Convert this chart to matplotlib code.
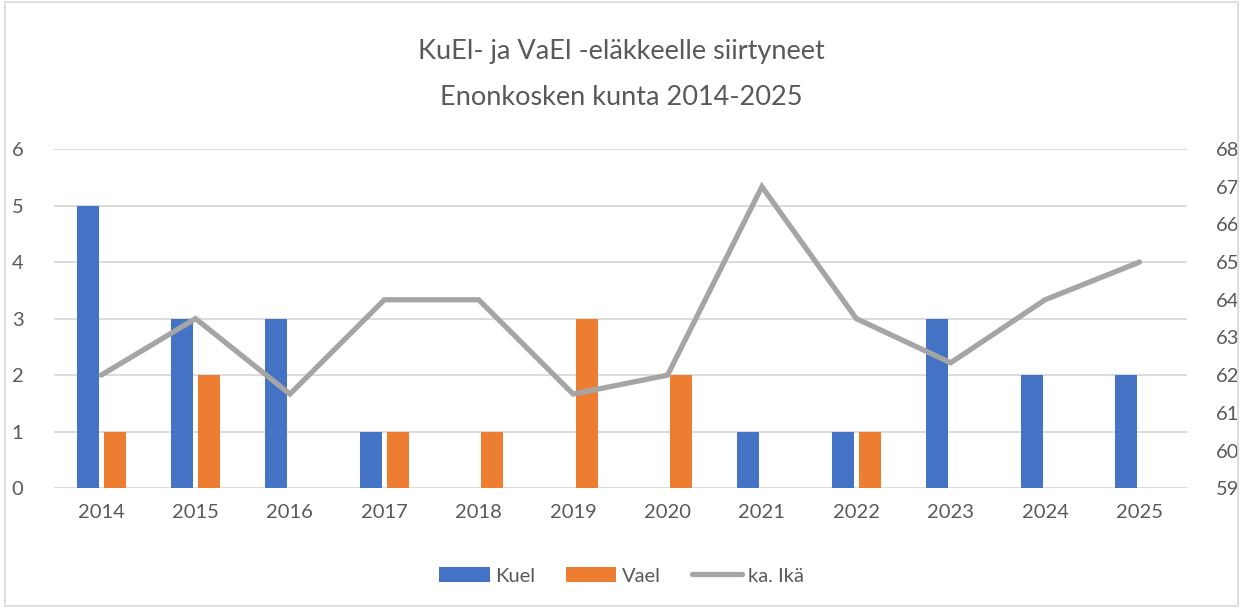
import numpy as np
import matplotlib.pyplot as plt
from matplotlib.patches import Rectangle

years = ['2014', '2015', '2016', '2017', '2018', '2019',
         '2020', '2021', '2022', '2023', '2024', '2025']
kuel = [5, 3, 3, 1, 0, 0, 0, 1, 1, 3, 2, 2]
vael = [1, 2, 0, 1, 1, 3, 2, 0, 1, 0, 0, 0]
ika = [62, 63.5, 61.5, 64, 64, 61.5, 62, 67, 63.5, 62.33, 64, 65]

txt = '#595959'
grid_c = '#d9d9d9'
plt.rcParams['font.family'] = ['Lato', 'DejaVu Sans']

fig = plt.figure(figsize=(12.43, 6.08), dpi=100)
ax = fig.add_axes([0.0434, 0.1969, 0.9113, 0.5581])
ax2 = ax.twinx()

x = np.arange(len(years))
w = 0.233
off = 0.143
b1 = ax.bar(x - off, kuel, w, color='#4472C4', label='Kuel', zorder=2)
b2 = ax.bar(x + off, vael, w, color='#ED7D31', label='Vael', zorder=2)
l1, = ax2.plot(x, ika, color='#A5A5A5', lw=3.8, solid_capstyle='round',
               solid_joinstyle='miter', label='ka. Ikä', zorder=3)

ax.set_xlim(-0.5, len(years) - 0.5)
ax.set_ylim(0, 6)
ax.set_yticks(range(0, 7))
ax2.set_ylim(59, 68)
ax2.set_yticks(range(59, 69))
ax.set_xticks(x)
ax.set_xticklabels(years)

ax.grid(axis='y', color=grid_c, lw=1.3, zorder=0)
ax.set_axisbelow(True)
for a in (ax, ax2):
    for s in a.spines.values():
        s.set_visible(False)
    a.tick_params(length=0, labelsize=14.5, colors=txt)
ax.tick_params(axis='y', pad=22)
ax2.tick_params(axis='y', pad=21)
ax.tick_params(axis='x', pad=11)

fig.text(0.5, 0.916, 'KuEl- ja VaEl -eläkkeelle siirtyneet', ha='center',
         va='center', fontsize=19.5, color=txt)
fig.text(0.5, 0.839, 'Enonkosken kunta 2014-2025', ha='center',
         va='center', fontsize=19.5, color=txt)

fig.legend([b1, b2, l1], ['Kuel', 'Vael', 'ka. Ikä'], loc='center',
           bbox_to_anchor=(0.5, 0.053), ncol=3, frameon=False, fontsize=14.5,
           labelcolor=txt, handlelength=2.5, handleheight=0.8,
           columnspacing=1.5, handletextpad=0.3)

fig.patches.append(Rectangle((0.004, 0.004), 0.992, 0.992, transform=fig.transFigure,
                             fill=False, edgecolor=grid_c, lw=1.2))

fig.savefig('out.png', dpi=100)
